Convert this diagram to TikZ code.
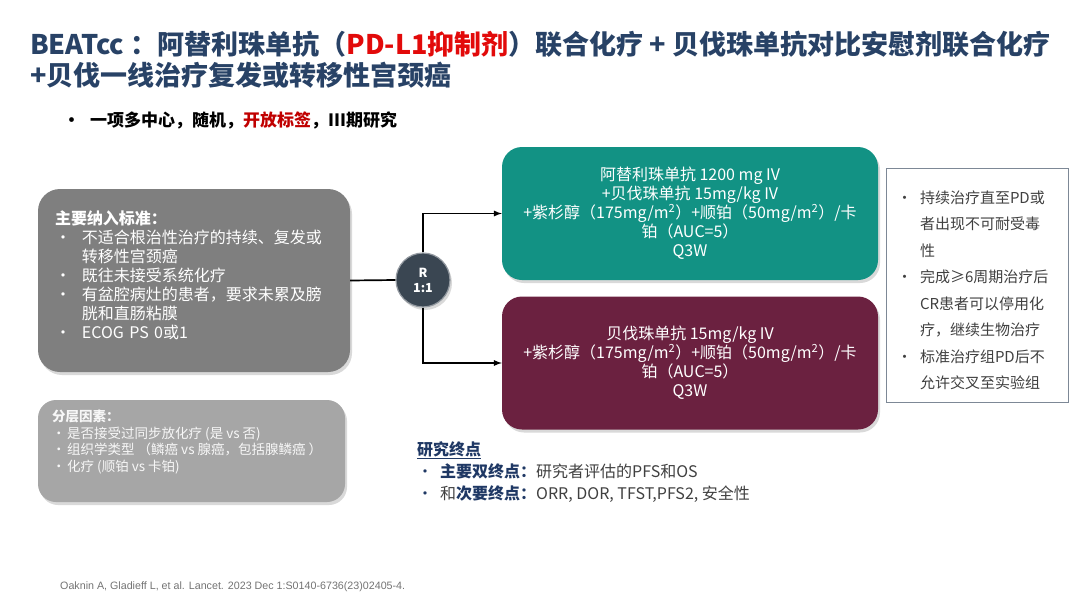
\documentclass[tikz,border=0pt]{standalone}
\usepackage{fontspec}
\setmainfont{Noto Sans CJK SC}
\newfontfamily\reffont{Liberation Sans}
\usepackage{xcolor}
\usetikzlibrary{shadows}
\definecolor{titleblue}{RGB}{40,66,102}
\definecolor{titlered}{RGB}{226,10,10}
\definecolor{labelred}{RGB}{192,0,0}
\definecolor{navy}{RGB}{31,56,100}
\definecolor{gray1}{RGB}{127,127,127}
\definecolor{gray2}{RGB}{166,166,166}
\definecolor{circ}{RGB}{58,70,82}
\definecolor{armteal}{RGB}{18,146,132}
\definecolor{armred}{RGB}{107,33,64}
\definecolor{notegray}{RGB}{64,64,64}
\definecolor{noteline}{RGB}{125,136,150}
\newcommand{\bl}[1][23pt]{\makebox[#1][l]{\textbullet}}
\newcommand{\ind}[1][23pt]{\hspace*{#1}}

\begin{document}
\begin{tikzpicture}[x=1pt,y=-1pt,
  shade/.style={drop shadow={shadow xshift=2pt,shadow yshift=-3pt,opacity=0.3}},
  gbox/.style={rounded corners=22pt,shade,inner sep=0pt},
  abox/.style={rounded corners=20pt,shade,minimum width=376pt,minimum height=133pt,
    align=center,text=white,font=\fontsize{16}{19}\selectfont},
  conn/.style={line width=1.7pt}]
\useasboundingbox (0,0) rectangle (1080,608);

\node[anchor=base west,inner sep=0,text=titleblue,font=\fontsize{27}{30}\selectfont\bfseries] (t1) at (30,54)
  {BEATcc ：阿替利珠单抗（\textcolor{titlered}{PD-L1抑制剂}）联合化疗 + 贝伐珠单抗对比安慰剂联合化疗};
\node[anchor=base west,inner sep=0,text=titleblue,font=\fontsize{27}{30}\selectfont\bfseries] (t2) at (30,85)
  {+贝伐一线治疗复发或转移性宫颈癌};
\node[anchor=base west,inner sep=0,font=\fontsize{17}{19}\selectfont\bfseries] (b1) at (63,126)
  {\bl[27pt]一项多中心，随机，\textcolor{labelred}{开放标签}，III期研究};

\node[gbox,fill=gray1,minimum width=312pt,minimum height=183pt,inner xsep=17pt,text width=278pt,
  align=left,text=white,font=\fontsize{16}{19}\selectfont] (incl) at (194,280.5)
  {\textbf{主要纳入标准：}\\
   \bl[27pt]不适合根治性治疗的持续、复发或\\
   \ind[27pt]转移性宫颈癌\\
   \bl[27pt]既往未接受系统化疗\\
   \bl[27pt]有盆腔病灶的患者，要求未累及膀\\
   \ind[27pt]胱和直肠粘膜\\
   \bl[27pt]ECOG PS 0或1\rule[-12pt]{0pt}{0pt}};

\node[gbox,fill=gray2,rounded corners=18pt,minimum width=307pt,minimum height=102pt] (strat) at (191.5,451) {};
\node[anchor=north west,inner sep=0,align=left,text=white!94!gray,font=\fontsize{13.5}{16.5}\selectfont] (stxt) at (52,410)
  {\textbf{分层因素：}\\
   \bl[15pt]是否接受过同步放化疗 (是 vs 否)\\
   \bl[15pt]组织学类型 （鳞癌 vs 腺癌，包括腺鳞癌 ）\\
   \bl[15pt]化疗 (顺铂 vs 卡铂)};

\node[circle,minimum size=54pt,fill=circ,draw=circ!55!white,line width=1.2pt,shade,
  text=white,align=center,font=\fontsize{12.5}{15}\selectfont\bfseries] (rand) at (423,280) {R\\1:1};

\node[abox,fill=armteal] (armA) at (690,213.5)
  {阿替利珠单抗 1200 mg IV\\
   +贝伐珠单抗 15mg/kg IV\\
   +紫杉醇（175mg/m\textsuperscript{2}）+顺铂（50mg/m\textsuperscript{2}）/卡\\
   铂（AUC=5）\\
   Q3W};
\node[abox,fill=armred] (armB) at (690,363)
  {贝伐珠单抗 15mg/kg IV\\
   +紫杉醇（175mg/m\textsuperscript{2}）+顺铂（50mg/m\textsuperscript{2}）/卡\\
   铂（AUC=5）\\
   Q3W};

\node[draw=noteline,fill=white,minimum width=182pt,minimum height=234pt,inner xsep=11pt,
  text width=160pt,align=left,text=notegray,font=\fontsize{15}{26.5}\selectfont] (note) at (977,285)
  {\rule{0pt}{23pt}\bl 持续治疗直至PD或\\
   \ind 者出现不可耐受毒\\
   \ind 性\\
   \bl 完成≥6周期治疗后\\
   \ind CR患者可以停用化\\
   \ind 疗，继续生物治疗\\
   \bl 标准治疗组PD后不\\
   \ind 允许交叉至实验组};

\node[anchor=north west,inner sep=0,align=left,text=navy,font=\fontsize{16}{22}\selectfont] (endp) at (417,441)
  {\textbf{\underline{研究终点}}\\
   \bl\textbf{主要双终点：}\textcolor{notegray}{研究者评估的PFS和OS}\\
   \bl\textcolor{notegray}{和}\textbf{次要终点：}\textcolor{notegray}{ORR, DOR, TFST,PFS2, 安全性}};

\node[anchor=base west,inner sep=0,text=gray!90!black,font=\reffont\fontsize{10.7}{12}\selectfont] (ref) at (60,589)
  {Oaknin A, Gladieff L, et al. Lancet. 2023 Dec 1:S0140-6736(23)02405-4.};

\draw[conn] (incl.east) -- (rand.west);
\draw[conn,-latex] (rand.north) |- (armA.west);
\draw[conn,-latex] (rand.south) |- (armB.west);
\end{tikzpicture}
\end{document}
